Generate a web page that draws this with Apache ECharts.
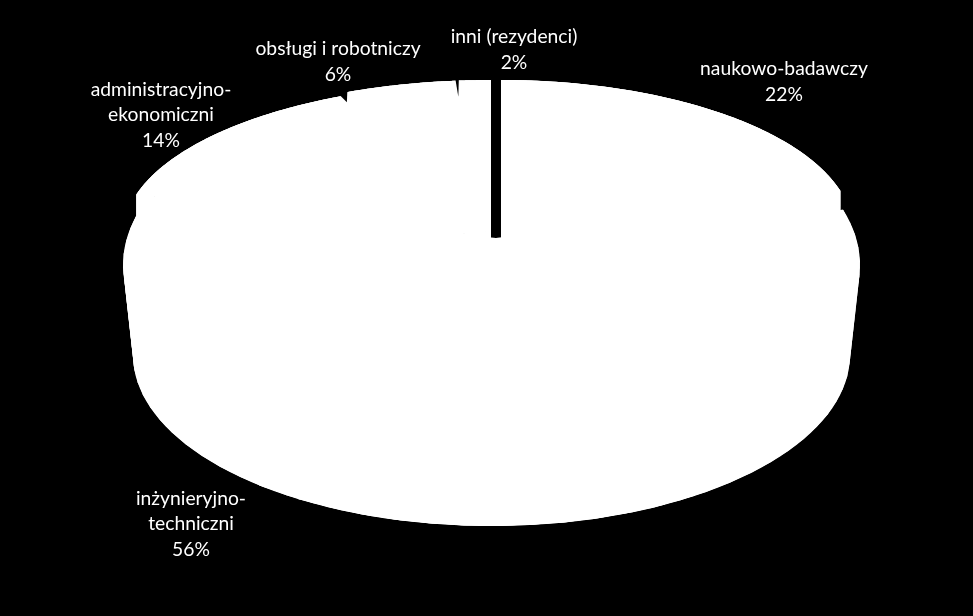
<!DOCTYPE html>
<html><head><meta charset="utf-8">
<style>html,body{margin:0;padding:0;background:#000}#c{width:973px;height:616px}</style>
<script src="https://cdn.jsdelivr.net/npm/echarts@6/dist/echarts.min.js"></script>
</head><body><div id="c"></div>
<script>
// Data, clockwise from 12 o'clock
const categories = ['naukowo-badawczy', 'inżynieryjno-\ntechniczni', 'administracyjno-\nekonomiczni', 'obsługi i robotniczy', 'inni (rezydenci)'];
const shares = [22, 56, 14, 6, 2];

// Projection of each slice (style only): apex, rim ellipse, extrusion
const geometry = [
  {ax:501, ay:236, cx:501, cy:231, rx:352, ry:151, lowCx:501, lowCy:253, lowRx:352, lowRy:151, warp:0},
  {ax:496, ay:238, cx:491.5, cy:265, rx:368.5, ry:185, lowCx:491.5, lowCy:355, lowRx:358.5, lowRy:171, warp:-2},
  {ax:491, ay:237, cx:491, cy:235, rx:368, ry:152, lowCx:491, lowCy:258, lowRx:368, lowRy:152, warp:0},
  {ax:491, ay:237, cx:491, cy:232, rx:368, ry:152, lowCx:491, lowCy:240, lowRx:368, lowRy:152, warp:0},
  {ax:491, ay:237, cx:491, cy:232, rx:368, ry:152, lowCx:491, lowCy:236, lowRx:368, lowRy:152, warp:0}
];
const labelAnchors = [[784,82],[191,524],[161,115],[338,62],[514,50]];
const white = '#ffffff';

function foreshorten(t){
  const m = t > 180 ? 360 - t : t;
  const p = m * (0.72 + 0.0028 * m);
  return t > 180 ? 360 - p : p;
}
function rimPoint(cx, cy, rx, ry, deg){
  const a = deg * Math.PI / 180;
  return [cx + rx * Math.sin(a), cy - ry * Math.cos(a)];
}
const total = shares.reduce((a, b) => a + b, 0);
let running = 0;
const spans = shares.map(v => { const s = running; running += v; return [s / total * 360, running / total * 360]; });

function renderSlice(params, api){
  const i = params.dataIndex;
  const g = geometry[i];
  const [t0, t1] = spans[i];
  const top = [], low = [];
  const n = 120;
  for (let k = 0; k <= n; k++){
    const t = t0 + (t1 - t0) * k / n;
    const d = foreshorten(t) + (i === 1 && t < 180 ? g.warp : 0);
    top.push(rimPoint(g.cx, g.cy, g.rx, g.ry, d));
    low.push(rimPoint(g.lowCx, g.lowCy, g.lowRx, g.lowRy, d));
  }
  const style = {fill: white, stroke: null};
  const children = [];
  // overlapping wall quads so no seams show between them
  for (let k = 0; k < n; k += 2){
    const e = Math.min(k + 4, n);
    children.push({type:'polygon', shape:{points:[top[k], top[e], low[e], low[k]]}, style});
  }
  const drop = Math.max(low[0][1] - top[0][1], 23);
  const apexLow = [g.ax, g.ay + drop];
  const apexTop = [g.ax, g.ay];
  children.push({type:'polygon', shape:{points: [apexLow].concat(low)}, style});
  children.push({type:'polygon', shape:{points: [apexTop].concat(top)}, style});
  // the cut faces of the slice
  children.push({type:'polygon', shape:{points: [apexTop, top[0], low[0], apexLow]}, style});
  children.push({type:'polygon', shape:{points: [apexTop, top[n], low[n], apexLow]}, style});
  return {type:'group', children};
}
function renderNotch(params, api){
  const i = params.dataIndex;
  if (i !== 2 && i !== 3) return null;
  const g = geometry[i];
  const p = rimPoint(g.cx, g.cy, g.rx, g.ry, foreshorten(spans[i][1]));
  const pts = i === 2
    ? [[p[0]-8, p[1]-1],[p[0], p[1]+7],[p[0]+0.5, p[1]-5],[p[0]-3, p[1]-5]]
    : [[p[0]-1.5, p[1]-2],[p[0]+1.5, p[1]+16],[p[0]+2, p[1]-2]];
  return {type:'polygon', shape:{points: pts}, style:{fill:'#000', stroke:null}};
}
function renderLabel(params, api){
  const i = params.dataIndex;
  const a = labelAnchors[i];
  return {type:'text', style:{
    x:a[0], y:a[1], text: categories[i] + '\n' + api.value(0) + '%',
    fill:'#fff', font:'19.3px Lato, sans-serif', align:'center', verticalAlign:'middle', lineHeight:25.5
  }};
}
const rows = shares.map(v => [v]);
const chart = echarts.init(document.getElementById('c'), null, {renderer:'canvas'});
chart.setOption({
  backgroundColor:'#000',
  animation:false,
  series:[
    {type:'custom', coordinateSystem:'none', renderItem:renderSlice, data:rows, z:1, silent:true},
    {type:'custom', coordinateSystem:'none', renderItem:renderNotch, data:rows, z:2, silent:true},
    {type:'custom', coordinateSystem:'none', renderItem:renderLabel, data:rows, z:3, silent:true}
  ]
});
</script></body></html>
